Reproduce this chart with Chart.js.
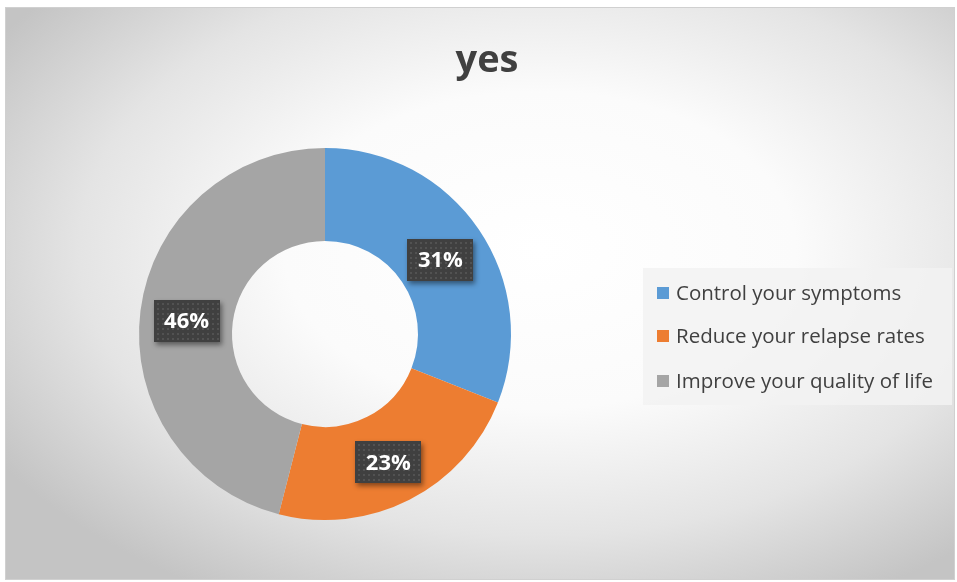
<!DOCTYPE html>
<html>
<head>
<meta charset="utf-8">
<script src="https://cdn.jsdelivr.net/npm/chart.js@4.4.1/dist/chart.umd.min.js"></script>
<style>
html,body{margin:0;padding:0;background:#fff;}
#wrap{width:957px;height:582px;position:relative;}
</style>
</head>
<body>
<div id="wrap"><canvas id="c" width="957" height="582"></canvas></div>
<script>
const titleText = 'yes';
const categories = ['Control your symptoms', 'Reduce your relapse rates', 'Improve your quality of life'];
const values = [31, 23, 46];
const labelsText = ['31%', '23%', '46%'];
const colors = ['#5B9BD5', '#ED7D31', '#A5A5A5'];

const bgPlugin = {
  id: 'bg',
  beforeDraw(chart) {
    const ctx = chart.ctx;
    ctx.save();
    ctx.fillStyle = '#ffffff';
    ctx.fillRect(0, 0, chart.width, chart.height);
    const x0 = 5, y0 = 7, x1 = 955, y1 = 580;
    const cx = 540, cy = 250;
    ctx.save();
    ctx.beginPath();
    ctx.rect(x0, y0, x1 - x0, y1 - y0);
    ctx.clip();
    ctx.translate(cx, cy);
    ctx.scale(1, 0.62);
    const g = ctx.createRadialGradient(0, 0, 0, 0, 0, 640);
    g.addColorStop(0, '#ffffff');
    g.addColorStop(0.4, '#fbfbfb');
    g.addColorStop(0.72, '#e4e4e4');
    g.addColorStop(1, '#c4c4c4');
    ctx.fillStyle = g;
    ctx.fillRect(-cx - 10, -cy / 0.62 - 10, 1000, 1200);
    ctx.restore();
    ctx.strokeStyle = '#d0d0d0';
    ctx.lineWidth = 1;
    ctx.strokeRect(x0 + 0.5, y0 + 0.5, x1 - x0 - 1, y1 - y0 - 1);
    // title
    ctx.fillStyle = '#404040';
    ctx.font = 'bold 38px "Open Sans", "Liberation Sans", sans-serif';
    ctx.textAlign = 'center';
    ctx.textBaseline = 'middle';
    ctx.fillText(titleText, 487, 61);
    // legend
    ctx.fillStyle = 'rgba(242,242,242,0.85)';
    ctx.fillRect(643, 268, 309, 137);
    const ys = [293, 336, 381];
    ctx.font = '20.5px "Open Sans", "Liberation Sans", sans-serif';
    ctx.textAlign = 'left';
    for (let i = 0; i < categories.length; i++) {
      ctx.fillStyle = colors[i];
      ctx.fillRect(657, ys[i] - 6, 12, 12);
      ctx.fillStyle = '#404040';
      ctx.fillText(categories[i], 676, ys[i] + 1);
    }
    ctx.restore();
  }
};

const labelPlugin = {
  id: 'dl',
  afterDatasetsDraw(chart) {
    const ctx = chart.ctx;
    const meta = chart.getDatasetMeta(0);
    ctx.save();
    meta.data.forEach((arc, i) => {
      const p = arc.getProps(['x', 'y', 'startAngle', 'endAngle', 'innerRadius', 'outerRadius'], true);
      const a = (p.startAngle + p.endAngle) / 2;
      const r = (p.innerRadius + p.outerRadius) / 2;
      const x = p.x + Math.cos(a) * r;
      const y = p.y + Math.sin(a) * r + 4;
      const w = 66, h = 42;
      const bx = Math.round(x - w / 2), by = Math.round(y - h / 2);
      ctx.save();
      ctx.shadowColor = 'rgba(0,0,0,0.45)';
      ctx.shadowBlur = 5;
      ctx.shadowOffsetX = 2;
      ctx.shadowOffsetY = 3;
      ctx.fillStyle = '#404040';
      ctx.fillRect(bx, by, w, h);
      ctx.restore();
      ctx.fillStyle = '#525252';
      for (let yy = by + 3; yy < by + h - 1; yy += 5) {
        for (let xx = bx + 3; xx < bx + w - 1; xx += 5) {
          ctx.fillRect(xx, yy, 2, 2);
        }
      }
      ctx.fillStyle = '#ffffff';
      ctx.font = 'bold 22px "Open Sans", "Liberation Sans", sans-serif';
      ctx.textAlign = 'center';
      ctx.textBaseline = 'middle';
      ctx.fillText(labelsText[i], x, y + 1);
    });
    ctx.restore();
  }
};

new Chart(document.getElementById('c'), {
  type: 'doughnut',
  data: {
    labels: categories,
    datasets: [{
      data: values,
      backgroundColor: colors,
      borderWidth: 0,
      hoverOffset: 0
    }]
  },
  options: {
    responsive: false,
    animation: false,
    cutout: '50%',
    layout: { padding: { left: 139, right: 446, top: 148, bottom: 62 } },
    plugins: { legend: { display: false }, tooltip: { enabled: false }, title: { display: false } }
  },
  plugins: [bgPlugin, labelPlugin]
});
</script>
</body>
</html>
